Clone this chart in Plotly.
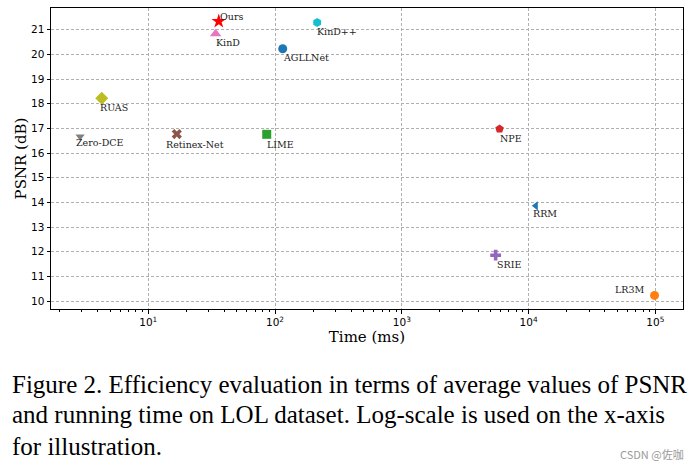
import math
import plotly.graph_objects as go

# ---- data ----
methods = ["Ours", "KinD", "KinD++", "AGLLNet", "RUAS", "Zero-DCE",
           "Retinex-Net", "LIME", "NPE", "RRM", "SRIE", "LR3M"]
time_ms = [36, 34, 215, 115, 4.3, 2.9, 16.8, 86, 5900, 11400, 5500, 98500]
psnr = [21.34, 20.84, 21.29, 20.23, 18.22, 16.67, 16.77, 16.76, 16.98, 13.86, 11.86, 10.23]

x_tick_vals = [10, 100, 1000, 10000, 100000]
x_tick_text = ["10<sup>1</sup>", "10<sup>2</sup>", "10<sup>3</sup>", "10<sup>4</sup>", "10<sup>5</sup>"]
y_tick_vals = [10, 11, 12, 13, 14, 15, 16, 17, 18, 19, 20, 21]

caption_lines = [
    "Figure 2. Efficiency evaluation in terms of average values of PSNR",
    "and running time on LOL dataset. Log-scale is used on the x-axis",
    "for illustration.",
]
watermark = "CSDN @佐咖"

# ---- styles ----
styles = {
    "Ours":        dict(symbol="star",          color="#ff0000", size=11),
    "KinD":        dict(symbol="triangle-up",   color="#e377c2", size=10),
    "KinD++":      dict(symbol="hexagon",       color="#17becf", size=9),
    "AGLLNet":     dict(symbol="circle",        color="#1f77b4", size=9),
    "RUAS":        dict(symbol="diamond",       color="#bcbd22", size=10),
    "Zero-DCE":    dict(symbol="triangle-down", color="#7f7f7f", size=8),
    "Retinex-Net": dict(symbol="x",             color="#8c564b", size=9),
    "LIME":        dict(symbol="square",        color="#2ca02c", size=9),
    "NPE":         dict(symbol="pentagon",      color="#d62728", size=9),
    "RRM":         dict(symbol="triangle-left", color="#1f77b4", size=8),
    "SRIE":        dict(symbol="cross",         color="#9467bd", size=9),
    "LR3M":        dict(symbol="circle",        color="#ff7f0e", size=9),
}
# label placement: (xanchor, xshift, yshift) in px
label_pos = {
    "Ours": ("left", -1, 5),
    "KinD": ("left", -2, -9),
    "KinD++": ("left", -2, -9),
    "AGLLNet": ("left", -2, -9),
    "RUAS": ("left", -4, -9),
    "Zero-DCE": ("left", -6, -6),
    "Retinex-Net": ("left", -13, -10),
    "LIME": ("left", -2, -10),
    "NPE": ("left", -2, -10),
    "RRM": ("left", -5, -8),
    "SRIE": ("left", -1, -9),
    "LR3M": ("right", -8, 6),
}

fig = go.Figure()
for m, t, p in zip(methods, time_ms, psnr):
    s = styles[m]
    fig.add_trace(go.Scatter(
        x=[t], y=[p], mode="markers", name=m,
        marker=dict(symbol=s["symbol"], color=s["color"], size=s["size"],
                    line=dict(width=0)),
        showlegend=False, hoverinfo="x+y+name",
    ))
    xa, xs, ys = label_pos[m]
    fig.add_annotation(x=math.log10(t), y=p, xref="x", yref="y",
                       text=m, showarrow=False, xanchor=xa, yanchor="middle",
                       xshift=xs, yshift=ys,
                       font=dict(family="DejaVu Serif", size=9.5, color="#222"))

# caption
W, H = 697, 469
L, R, T, B = 51, 14, 8, 160
pw, ph = W - L - R, H - T - B
def px_to_paper(px, py):
    return (px - L) / pw, (H - B - py) / ph

cap_font = dict(family="Liberation Serif", size=25, color="black")
for i, line in enumerate(caption_lines):
    cx, cy = px_to_paper(10, 384 + 31 * i)
    fig.add_annotation(x=cx, y=cy, xref="paper", yref="paper", text=line,
                       showarrow=False, xanchor="left", yanchor="middle",
                       font=cap_font)
wx, wy = px_to_paper(686, 454)
fig.add_annotation(x=wx, y=wy, xref="paper", yref="paper", text=watermark,
                   showarrow=False, xanchor="right", yanchor="middle",
                   font=dict(family="Noto Sans CJK SC", size=11, color="#9a9a9a"))

minor_vals = [d * 10 ** k for k in range(0, 6) for d in range(2, 10)]

fig.update_xaxes(
    type="log", range=[0.233, 5.218],
    tickvals=x_tick_vals, ticktext=x_tick_text,
    ticks="outside", ticklen=3.5, tickcolor="black", tickwidth=1,
    showline=True, linecolor="black", linewidth=1, mirror=True,
    showgrid=True, gridcolor="#b0b0b0", griddash="3px,2px", gridwidth=1,
    zeroline=False,
    minor=dict(tickvals=minor_vals, ticks="outside", ticklen=2,
               tickcolor="black", showgrid=False),
    tickfont=dict(family="DejaVu Sans", size=10.5, color="black"),
    title=dict(text="Time (ms)", font=dict(family="DejaVu Serif", size=15, color="black"),
               standoff=0),
    automargin=False,
)
fig.update_yaxes(
    range=[9.68, 21.88], tickvals=y_tick_vals,
    ticks="outside", ticklen=3.5, tickcolor="black", tickwidth=1,
    showline=True, linecolor="black", linewidth=1, mirror=True,
    showgrid=True, gridcolor="#b0b0b0", griddash="3px,2px", gridwidth=1,
    zeroline=False,
    tickfont=dict(family="DejaVu Sans", size=10.5, color="black"),
    title=dict(text="PSNR (dB)", font=dict(family="DejaVu Serif", size=15, color="black"),
               standoff=0),
    automargin=False,
)
fig.update_layout(
    width=W, height=H,
    margin=dict(l=L, r=R, t=T, b=B),
    paper_bgcolor="white", plot_bgcolor="white",
)
fig.write_html("out.html", config={"displayModeBar": False},
               post_script="document.body.style.margin='0';document.body.style.overflow='hidden';")
